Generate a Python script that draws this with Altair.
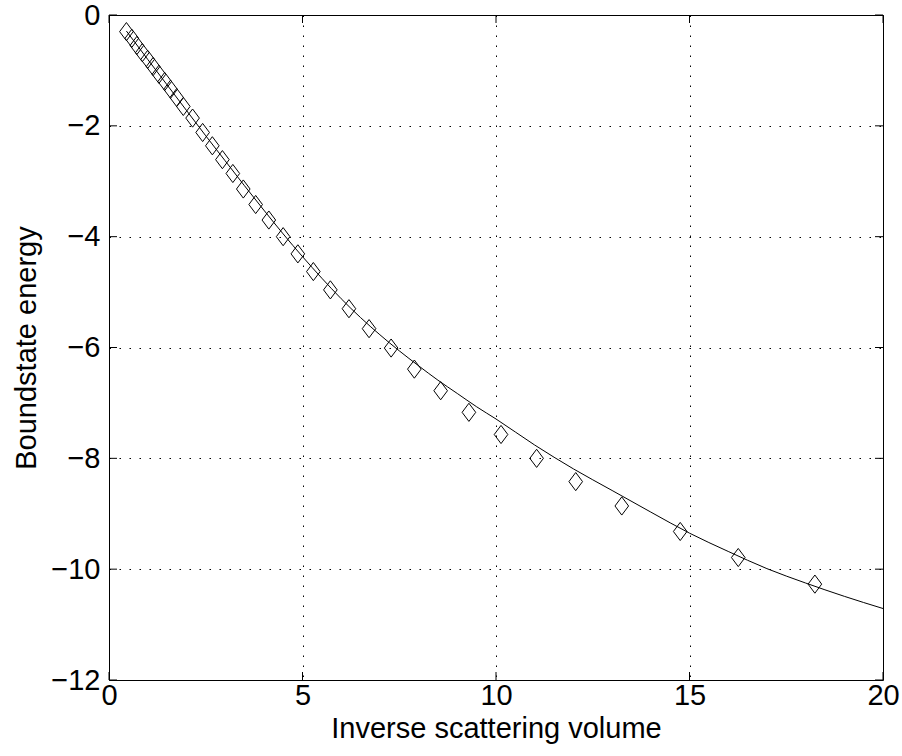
import altair as alt
import pandas as pd

# Diamond markers
pts_x = [0.45, 0.59, 0.72, 0.86, 1.00, 1.14, 1.29, 1.44, 1.59, 1.75, 1.92, 2.16, 2.42,
         2.67, 2.93, 3.20, 3.47, 3.79, 4.13, 4.50, 4.88, 5.28, 5.72, 6.20, 6.72, 7.29,
         7.89, 8.57, 9.30, 10.13, 11.05, 12.06, 13.25, 14.76, 16.26, 18.24]
pts_y = [-0.30, -0.42, -0.55, -0.68, -0.80, -0.93, -1.07, -1.20, -1.34, -1.49, -1.65,
         -1.86, -2.12, -2.36, -2.61, -2.86, -3.14, -3.42, -3.70, -4.00, -4.31, -4.63,
         -4.96, -5.30, -5.66, -6.01, -6.39, -6.78, -7.17, -7.57, -8.00, -8.42, -8.86,
         -9.32, -9.79, -10.27]

# Solid curve
fit_x = [0.45, 1.0, 1.5, 2.0, 2.5, 3.0, 3.5, 4.0, 4.5, 5.0, 5.5, 6.0, 6.5, 7.0, 7.5,
         8.0, 8.5, 9.0, 9.5, 10.0, 11.0, 12.0, 13.0, 14.0, 15.0, 16.0, 17.0, 18.0,
         19.0, 20.0]
fit_y = [-0.29, -0.80, -1.26, -1.72, -2.18, -2.63, -3.08, -3.52, -3.95, -4.36, -4.75,
         -5.12, -5.46, -5.77, -6.06, -6.33, -6.59, -6.83, -7.07, -7.29, -7.76, -8.19,
         -8.58, -8.97, -9.35, -9.68, -9.99, -10.25, -10.49, -10.71]

x_ticks = [0, 5, 10, 15, 20]
y_ticks = [0, -2, -4, -6, -8, -10, -12]

x_title = "Inverse scattering volume"
y_title = "Boundstate energy"

W, H = 774, 665
TL = 8
FONT = "Liberation Sans"
FS = 29

pts = pd.DataFrame({"x": pts_x, "y": pts_y})
fit = pd.DataFrame({"x": fit_x, "y": fit_y})
xt = pd.DataFrame({"x": x_ticks})
yt = pd.DataFrame({"y": y_ticks})

xs = alt.Scale(domain=[0, 20], nice=False, zero=False)
ys = alt.Scale(domain=[-12, 0], nice=False, zero=False)

x_axis = alt.Axis(values=x_ticks, format="d", grid=True, gridDash=[1.5, 8.5],
                  gridColor="black", gridWidth=1, gridOpacity=1, ticks=False, domain=False,
                  labelFont=FONT, labelFontSize=FS, labelColor="black", labelPadding=1,
                  labelFlush=False, labelOverlap=False,
                  title=x_title, titleFont=FONT, titleFontSize=FS, titleFontWeight="normal",
                  titleColor="black", titleX=W / 2, titleY=57, titleBaseline="alphabetic",
                  titleAlign="center")
y_axis = alt.Axis(values=y_ticks, format="d", grid=True, gridDash=[1.5, 8.5],
                  gridColor="black", gridWidth=1, gridOpacity=1, ticks=False, domain=False,
                  labelFont=FONT, labelFontSize=FS, labelColor="black", labelPadding=9,
                  labelFlush=False, labelOverlap=False,
                  title=y_title, titleFont=FONT, titleFontSize=FS, titleFontWeight="normal",
                  titleColor="black", titleX=-74, titleY=H / 2, titleBaseline="alphabetic",
                  titleAlign="center", titleAngle=270)

X = alt.X("x:Q", scale=xs, axis=x_axis)
Y = alt.Y("y:Q", scale=ys, axis=y_axis)

line = alt.Chart(fit).mark_line(color="black", strokeWidth=1, interpolate="monotone").encode(
    x=X, y=Y)

diamonds = alt.Chart(pts).mark_point(
    shape="M0,-1L0.75,0L0,1L-0.75,0Z", size=330, filled=False,
    stroke="black", strokeWidth=1, opacity=1,
).encode(x=X, y=Y)

tick_style = dict(color="black", strokeWidth=1)
bottom_ticks = alt.Chart(xt).mark_rule(**tick_style).encode(
    x=X, y=alt.value(H), y2=alt.value(H - TL))
top_ticks = alt.Chart(xt).mark_rule(**tick_style).encode(
    x=X, y=alt.value(0), y2=alt.value(TL))
left_ticks = alt.Chart(yt).mark_rule(**tick_style).encode(
    y=Y, x=alt.value(0), x2=alt.value(TL))
right_ticks = alt.Chart(yt).mark_rule(**tick_style).encode(
    y=Y, x=alt.value(W), x2=alt.value(W - TL))

chart = alt.layer(line, diamonds, bottom_ticks, top_ticks, left_ticks, right_ticks).properties(
    width=W, height=H,
    padding={"left": 109, "top": 15, "right": 19, "bottom": 76},
    autosize=alt.AutoSizeParams(type="none"),
    background="white",
).configure_view(stroke="black", strokeWidth=1)

chart.save("out.html", embed_options={"renderer": "svg", "actions": False})
